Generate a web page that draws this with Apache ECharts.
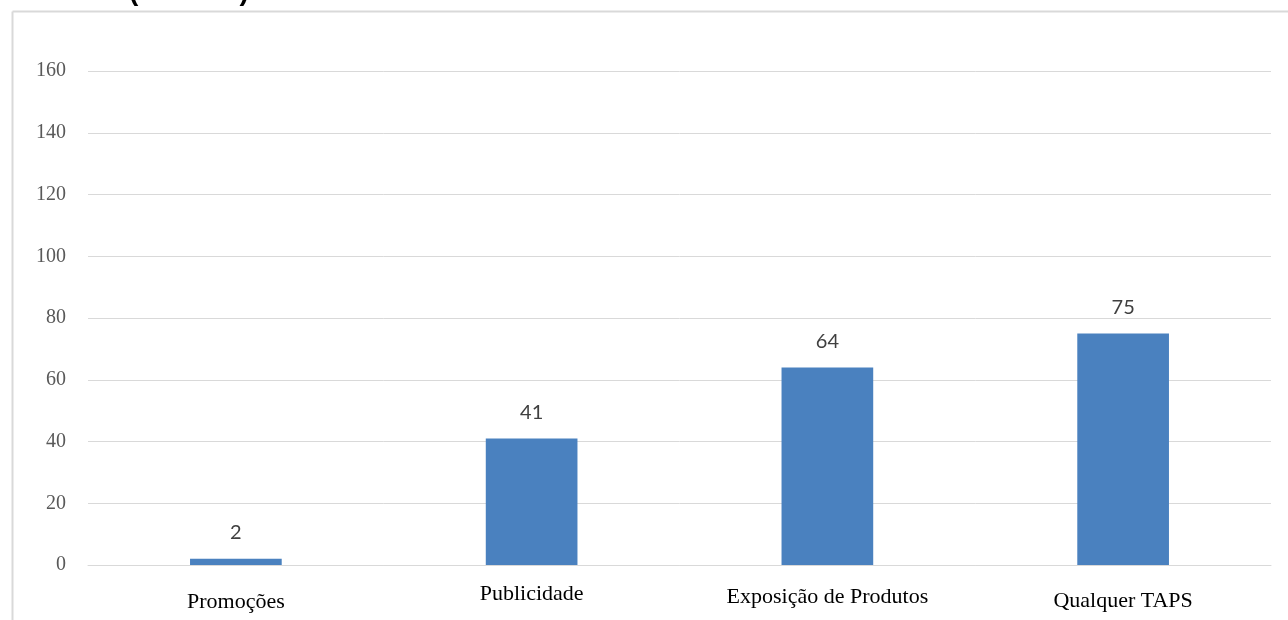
<!DOCTYPE html>
<html>
<head>
<meta charset="utf-8">
<script src="https://cdn.jsdelivr.net/npm/echarts@6/dist/echarts.min.js"></script>
<style>
html,body{margin:0;padding:0;background:#fff;}
#chart{width:1288px;height:620px;}
</style>
</head>
<body>
<div id="chart"></div>
<script>
const categories = ['Promoções', 'Publicidade', 'Exposição de Produtos', 'Qualquer TAPS'];
const values = [2, 41, 64, 75];
const labelPad = [12, 4, 7, 11];

const chart = echarts.init(document.getElementById('chart'));
chart.setOption({
  animation: false,
  backgroundColor: '#ffffff',
  graphic: [
    { type: 'line', shape: { x1: 12.5, y1: 11.5, x2: 1288, y2: 11.5 }, style: { stroke: '#d9d9d9', lineWidth: 2 } },
    { type: 'line', shape: { x1: 12.5, y1: 11.5, x2: 12.5, y2: 620 }, style: { stroke: '#d9d9d9', lineWidth: 2 } },
    { type: 'text', left: 129, top: -22, style: { text: '(             )', font: 'bold 28px "Liberation Sans"', fill: '#000' } }
  ],
  grid: { left: 88, right: 17, top: 71, bottom: 55, containLabel: false },
  xAxis: {
    type: 'category',
    data: categories.map((c, i) => ({ value: c, textStyle: { padding: [labelPad[i], 0, 0, 0] } })),
    axisLine: { show: true, lineStyle: { color: '#d9d9d9', width: 1 } },
    axisTick: { show: false },
    axisLabel: { color: '#000', fontFamily: '"Liberation Serif", serif', fontSize: 22, margin: 14, interval: 0 }
  },
  yAxis: {
    type: 'value',
    min: 0, max: 160, interval: 20,
    axisLine: { show: false },
    axisTick: { show: false },
    splitLine: { lineStyle: { color: '#d9d9d9', width: 1 } },
    axisLabel: { color: '#595959', fontFamily: '"Liberation Serif", serif', fontSize: 20, margin: 22, padding: [4, 0, 0, 0] }
  },
  series: [{
    type: 'bar',
    data: values,
    barWidth: '31%',
    itemStyle: { color: '#4a81bf' },
    label: { show: true, position: 'top', distance: 16, color: '#404040', fontFamily: 'Lato, "Open Sans", sans-serif', fontSize: 20 }
  }]
});
</script>
</body>
</html>
